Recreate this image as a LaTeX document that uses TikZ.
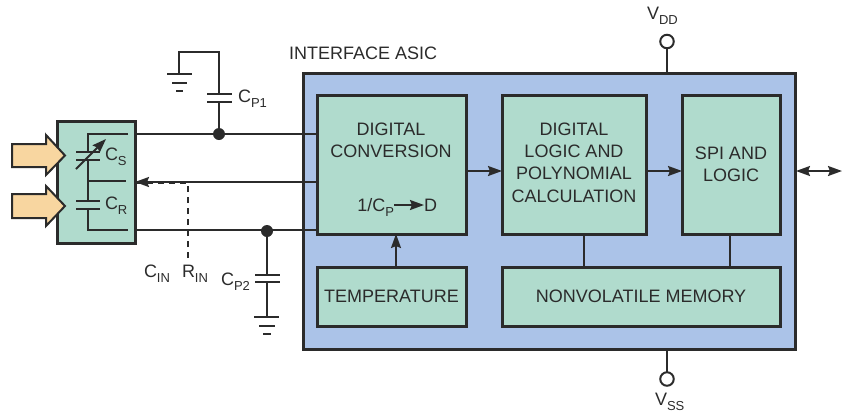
\documentclass[tikz,border=0pt]{standalone}
\usepackage{fontspec}
\setmainfont{Liberation Sans}
\usetikzlibrary{arrows.meta,calc}
\definecolor{ink}{HTML}{2B2B2B}
\definecolor{asic}{HTML}{ABC3E8}
\definecolor{teal}{HTML}{B0DBCD}
\definecolor{peach}{HTML}{F8D6A0}
\newcommand{\sbs}[1]{\raisebox{-5.5pt}{\fontsize{13}{13}\selectfont #1}}
\tikzset{
  x=1pt,y=-1pt,
  every node/.style={text=ink,font=\fontsize{18}{22.4}\selectfont,inner sep=0pt,outer sep=0pt},
  block/.style={draw=ink,fill=teal,line width=3pt,align=center},
  wire/.style={draw=ink,line width=2pt},
  plate/.style={draw=ink,line width=2pt},
  flow/.style={wire,-{Stealth[length=14pt,width=10pt,inset=2pt]}},
  flowboth/.style={wire,{Stealth[length=14pt,width=10pt,inset=2pt]}-{Stealth[length=14pt,width=10pt,inset=2pt]}},
  dashwire/.style={draw=ink,line width=2pt,dash pattern=on 6pt off 5pt},
  jdot/.style={circle,fill=ink,minimum size=12pt},
  term/.style={circle,draw=ink,fill=white,line width=2pt,minimum size=13.5pt},
  lbl/.style={font=\fontsize{18}{20}\selectfont},
  pad/.style={draw=ink,fill=peach,line width=2pt,line join=miter},
}
\begin{document}
\begin{tikzpicture}
\useasboundingbox (0,0) rectangle (844,413);
% ASIC
\node[draw=ink,fill=asic,line width=3pt,minimum width=492pt,minimum height=276pt] (asicbox) at (549,211) {};
\node[lbl,anchor=base west] (asiclabel) at (289,59) {INTERFACE ASIC};
% blocks
\node[block,minimum width=149pt,minimum height=139pt] (conv) at (391.5,164.5) {};
\node[align=center] (convtext) at (391,140) {DIGITAL\\CONVERSION};
\coordinate (ra) at (394,205);
\coordinate (rb) at (424,205);
\node[anchor=base east] (ratio) at (394,211) {1/C\sbs{P}};
\node[anchor=base west] (ratiod) at (424,211) {D};
\draw[flow] (ra) -- (rb);
\node[block,minimum width=144pt,minimum height=139pt] (logic) at (574,164.5) {};
\node[align=center] (logictext) at (574,162.5) {DIGITAL\\LOGIC AND\\POLYNOMIAL\\CALCULATION};
\node[block,minimum width=98pt,minimum height=139pt] (spi) at (731,164.5) {SPI AND\\LOGIC};
\node[block,minimum width=149pt,minimum height=59pt] (temp) at (391.5,296.5) {TEMPERATURE};
\node[block,minimum width=278pt,minimum height=59pt] (nvm) at (641,296.5) {NONVOLATILE MEMORY};
% block connectors
\draw[flow] (conv.east |- 0,171) -- (logic.west |- 0,171);
\draw[flow] (logic.east |- 0,171) -- (spi.west |- 0,171);
\coordinate (extL) at (796,171);
\coordinate (extR) at (842,171);
\draw[flowboth] (extL) -- (extR);
\draw[flow] (temp.north -| 396,0) -- (conv.south -| 396,0);
\draw[wire] (logic.south -| 584,0) -- (nvm.north -| 584,0);
\draw[wire] (spi.south -| 730,0) -- (nvm.north -| 730,0);
% supplies
\node[term] (vdd) at (667,41.5) {};
\node[term] (vss) at (667,379) {};
\draw[wire] (vdd) -- (asicbox.north -| vdd);
\draw[wire] (vss) -- (asicbox.south -| vss);
\node[lbl,anchor=base west] (vddl) at (647,19) {V\sbs{DD}};
\node[lbl,anchor=base west] (vssl) at (655,405) {V\sbs{SS}};
% sensor
\node[block,minimum width=78pt,minimum height=122pt] (sensor) at (96,182) {};
\draw[pad] (12,144) -- (46,144) -- (46,135) -- (65,155.5) -- (46,175) -- (46,167) -- (12,167) -- cycle;
\draw[pad] (12,194) -- (46,194) -- (46,186) -- (65,206) -- (46,226) -- (46,218) -- (12,218) -- cycle;
% sensor interior
\draw[wire] (128,134) -- (88,134) -- (88,152);
\draw[wire] (88,160) -- (88,201);
\draw[wire] (88,209) -- (88,230) -- (128,230);
\draw[wire] (88,181) -- (126,181);
\draw[plate] (76,152) -- (100,152);
\draw[plate] (76,160) -- (100,160);
\draw[plate] (76,201) -- (100,201);
\draw[plate] (76,209) -- (100,209);
\draw[flow] (76,169) -- (106,139);
\node[lbl,anchor=base west] (cs) at (105,160) {C\sbs{S}};
\node[lbl,anchor=base west] (cr) at (105,209) {C\sbs{R}};
% wires to ASIC
\coordinate (jtop) at (219,134);
\coordinate (jbot) at (267,230);
\draw[wire] (sensor.east |- jtop) -- (conv.west |- jtop);
\draw[wire] (sensor.east |- jbot) -- (conv.west |- jbot);
\draw[wire,{Stealth[length=14pt,width=10pt,inset=2pt]}-] (sensor.east |- 0,182) -- (conv.west |- 0,182);
\node[jdot] (dtop) at (jtop) {};
\node[jdot] (dbot) at (267,231) {};
% dashed
\coordinate (rin) at (188,183);
\coordinate (rinend) at (188,258);
\draw[dashwire] (rinend) -- (rin) -- (sensor.east |- rin);
\node[lbl,anchor=base west] (cin) at (144,277) {C\sbs{IN}};
\node[lbl,anchor=base west] (rinl) at (182,277) {R\sbs{IN}};
% CP1
\node[lbl,anchor=base west] (cp1) at (238,102) {C\sbs{P1}};
\coordinate (g1) at (179,74);
\draw[wire] (dtop) -- (219,102);
\draw[wire] (219,94) -- (219,52) -- (179,52) -- (g1);
\draw[plate] (207,94) -- (232,94);
\draw[plate] (207,102) -- (232,102);
\draw[plate] (167,74) -- (192,74);
\draw[plate] (172,82.5) -- (187,82.5);
\draw[plate] (176,91) -- (183,91);
% CP2
\node[lbl,anchor=base west] (cp2) at (221,285) {C\sbs{P2}};
\coordinate (g2) at (267,317);
\draw[wire] (dbot) -- (267,275);
\draw[wire] (267,282) -- (g2);
\draw[plate] (255,275) -- (280,275);
\draw[plate] (255,282) -- (280,282);
\draw[plate] (254,317) -- (279,317);
\draw[plate] (259,325.5) -- (275,325.5);
\draw[plate] (263,334) -- (271,334);
\end{tikzpicture}
\end{document}
